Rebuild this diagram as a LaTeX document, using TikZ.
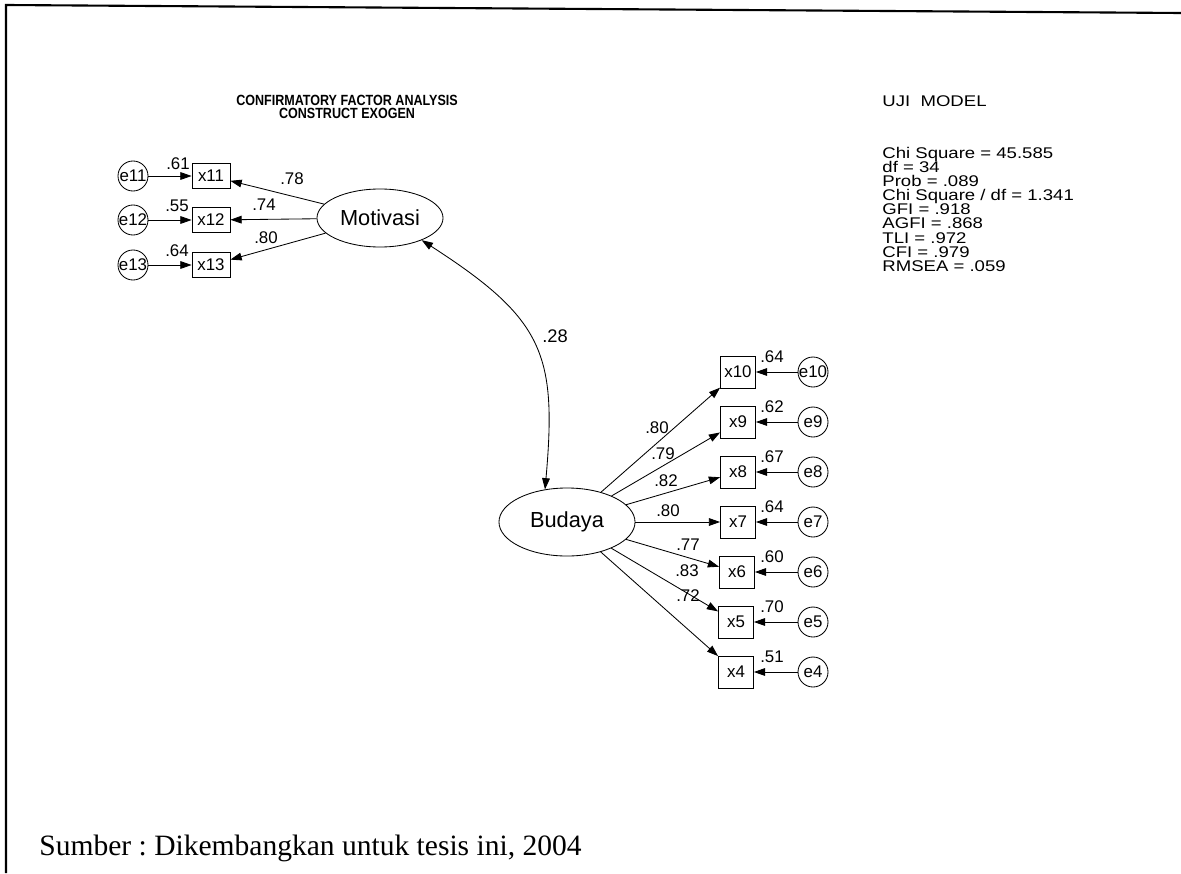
\documentclass[tikz,border=0pt]{standalone}
\usepackage{fontspec}
\setmainfont{Liberation Sans}
\newfontfamily\sumberfont{Liberation Serif}
\newfontfamily\statfont{Liberation Sans}[FakeStretch=1.2]
\newfontfamily\headfont{Liberation Sans}[FakeStretch=0.85]
\usetikzlibrary{shapes.geometric,arrows.meta}

\newcommand{\ename}[1]{\makebox[0pt]{#1}}
\AtBeginDocument{\setlength{\lineskiplimit}{-20pt}}

\tikzset{
  obsl/.style={draw,rectangle,inner sep=0pt,minimum width=0.95cm,minimum height=0.62cm,font=\fontsize{12}{12}\selectfont},
  obsr/.style={draw,rectangle,inner sep=0pt,minimum width=0.875cm,minimum height=0.8cm,font=\fontsize{12}{12}\selectfont},
  latent/.style={draw,ellipse,inner sep=0pt,font=\fontsize{15.5}{15.5}\selectfont},
  errc/.style={draw,circle,inner sep=0pt,minimum size=0.75cm,font=\fontsize{12}{12}\selectfont},
  coef/.style={inner sep=0pt,font=\fontsize{12}{12}\selectfont},
  stat/.style={inner sep=0pt,font=\statfont\fontsize{11}{10}\selectfont},
  arr/.style={-{Triangle[length=8pt,width=5.5pt]}},
  cov/.style={{Triangle[length=8pt,width=5.5pt]}-{Triangle[length=8pt,width=5.5pt]}},
}

\begin{document}
\begin{tikzpicture}[x=0.025cm,y=-0.025cm,semithick]
\useasboundingbox (0,0) rectangle (1181,873);

% frame of the scanned page
\draw[line width=1.5pt] (6,873) -- (6,5) -- (1181,13);

\node[align=center,inner sep=0pt,font=\headfont\bfseries\fontsize{10.5}{9.2}\selectfont] (title) at (347,107) {CONFIRMATORY FACTOR ANALYSIS\\CONSTRUCT EXOGEN};

\node[stat,anchor=north west] (uji) at (882,95) {UJI\ \ MODEL};
\node[stat,anchor=north west,align=left] (fit) at (882,147) {Chi Square = 45.585\\df = 34\\Prob = .089\\Chi Square / df = 1.341\\GFI = .918\\AGFI = .868\\TLI = .972\\CFI = .979\\RMSEA = .059};

% Motivasi
\node[latent,minimum width=3.15cm,minimum height=1.45cm] (mot) at (380,218) {Motivasi};

\node[obsl] (x11) at (211,176) {x11};
\node[obsl] (x12) at (211,220) {x12};
\node[obsl] (x13) at (211,265) {x13};

\node[errc] (e11) at (133,176) {\ename{e11}};
\node[errc] (e12) at (133,220) {\ename{e12}};
\node[errc] (e13) at (133,265) {\ename{e13}};

\draw[arr] (mot) -- (x11);
\draw[arr] (mot) -- (x12);
\draw[arr] (mot) -- (x13);
\draw[arr] (e11) -- (x11);
\draw[arr] (e12) -- (x12);
\draw[arr] (e13) -- (x13);

\node[coef] (l11) at (292,179) {.78};
\node[coef] (l12) at (264,205) {.74};
\node[coef] (l13) at (266,238) {.80};
\node[coef] (r11) at (178,164) {.61};
\node[coef] (r12) at (177,206) {.55};
\node[coef] (r13) at (177,251) {.64};

% Budaya
\node[latent,minimum width=3.4cm,minimum height=1.7cm] (bud) at (567,522) {Budaya};

\node[obsr] (x10) at (738,372) {x10};
\node[obsr] (x9) at (738,422) {x9};
\node[obsr] (x8) at (738,472) {x8};
\node[obsr] (x7) at (738,522) {x7};
\node[obsr] (x6) at (737,572) {x6};
\node[obsr] (x5) at (736,622) {x5};
\node[obsr] (x4) at (736,672) {x4};

\node[errc] (e10) at (813,372) {\ename{e10}};
\node[errc] (e9) at (813,422) {\ename{e9}};
\node[errc] (e8) at (813,472) {\ename{e8}};
\node[errc] (e7) at (813,522) {\ename{e7}};
\node[errc] (e6) at (813,572) {\ename{e6}};
\node[errc] (e5) at (813,622) {\ename{e5}};
\node[errc] (e4) at (813,672) {\ename{e4}};

\draw[arr] (bud) -- (x10);
\draw[arr] (bud) -- (x9);
\draw[arr] (bud) -- (x8);
\draw[arr] (bud) -- (x7);
\draw[arr] (bud) -- (x6);
\draw[arr] (bud) -- (x5);
\draw[arr] (bud) -- (x4);
\draw[arr] (e10) -- (x10);
\draw[arr] (e9) -- (x9);
\draw[arr] (e8) -- (x8);
\draw[arr] (e7) -- (x7);
\draw[arr] (e6) -- (x6);
\draw[arr] (e5) -- (x5);
\draw[arr] (e4) -- (x4);

\node[coef] (l10) at (657,428) {.80};
\node[coef] (l9) at (663,454) {.79};
\node[coef] (l8) at (666,481) {.82};
\node[coef] (l7) at (668,511) {.80};
\node[coef] (l6) at (688,545) {.77};
\node[coef] (l5) at (687,571) {.83};
\node[coef] (l4) at (688,596) {.72};

\node[coef] (r10) at (772,357) {.64};
\node[coef] (r9) at (772,407) {.62};
\node[coef] (r8) at (772,457) {.67};
\node[coef] (r7) at (772,507) {.64};
\node[coef] (r6) at (772,557) {.60};
\node[coef] (r5) at (772,607) {.70};
\node[coef] (r4) at (772,657) {.51};

% correlation
\draw[cov] (mot.-28) .. controls (544,319) and (557,354) .. (bud.124);
\node[inner sep=0pt,font=\fontsize{13}{13}\selectfont] (rho) at (555,336) {.28};

\node[anchor=west,inner sep=0pt,font=\sumberfont\fontsize{21}{21}\selectfont\frenchspacing] (sumber) at (39,848) {Sumber : Dikembangkan untuk tesis ini, 2004};
\end{tikzpicture}
\end{document}
